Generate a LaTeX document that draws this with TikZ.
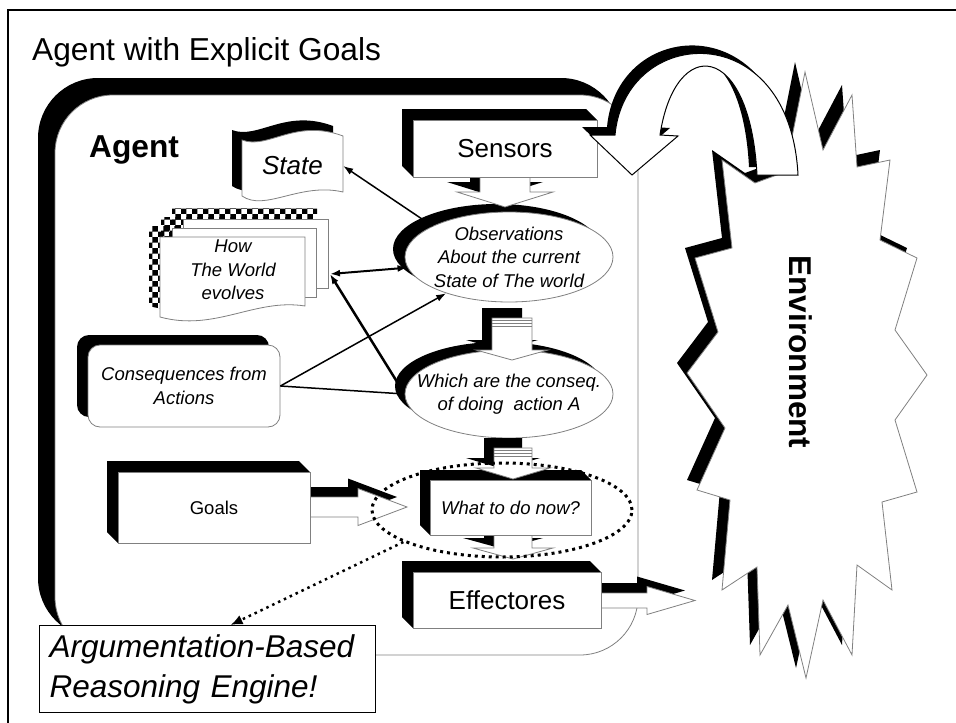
\documentclass[tikz,border=0pt]{standalone}
\usepackage{fontspec}
\setmainfont{Liberation Sans}
\usetikzlibrary{shapes.geometric,patterns,arrows.meta}

\newcommand{\titlefont}{\fontsize{31.7}{37}\selectfont}
\newcommand{\boxfont}{\fontsize{26}{31}\selectfont}
\newcommand{\notefont}{\fontsize{18.5}{23.5}\selectfont}
\newcommand{\argfont}{\fontsize{31.5}{40}\selectfont}

\tikzset{
  blackcast/.style={fill=black},
  sheet/.style={fill=white, draw=gray, line width=0.8pt},
  note/.style={font=\notefont\itshape, align=center},
  link/.style={-{Latex[length=10pt,width=7pt]}, line width=1.5pt},
}

% extruded shadow behind a box: x0,y0,x1,y1,offset
\newcommand{\castbox}[5]{%
  \fill (#1-#5,#2-#5) -- (#3-#5,#2-#5) -- (#3,#2) -- (#1,#4) -- (#1-#5,#4-#5) -- cycle;}

% block arrow down: cx, top, head, tip, half shaft, half head
\newcommand{\blockdown}[6]{%
  \path[blackcast, shift={(-10,-10)}] (#1-#5,#2) -- (#1+#5,#2) -- (#1+#5,#3) -- (#1+#6,#3) -- (#1,#4) -- (#1-#6,#3) -- (#1-#5,#3) -- cycle;
  \path[sheet] (#1-#5,#2) -- (#1+#5,#2) -- (#1+#5,#3) -- (#1+#6,#3) -- (#1,#4) -- (#1-#6,#3) -- (#1-#5,#3) -- cycle;}

% block arrow right: left, cy, head, tip, half shaft, half head
\newcommand{\blockright}[6]{%
  \path[blackcast, shift={(-10,-10)}] (#1,#2-#5) -- (#3,#2-#5) -- (#3,#2-#6) -- (#4,#2) -- (#3,#2+#6) -- (#3,#2+#5) -- (#1,#2+#5) -- cycle;
  \path[sheet] (#1,#2-#5) -- (#3,#2-#5) -- (#3,#2-#6) -- (#4,#2) -- (#3,#2+#6) -- (#3,#2+#5) -- (#1,#2+#5) -- cycle;}

\begin{document}
\begin{tikzpicture}[x=1pt, y=-1pt]
\useasboundingbox (0,0) rectangle (956,723);
\draw[line width=1.2pt] (8,723) -- (8,10) -- (956,10);
\node[font=\titlefont, anchor=base west, inner sep=0pt] (title) at (32,60) {Agent with Explicit Goals};

% agent frame
\fill[rounded corners=60] (38,78) rectangle (621,638);
\path[sheet, rounded corners=58] (55,95) rectangle (638,655);
\node[font=\titlefont\bfseries, anchor=base west, inner sep=0pt] (agentlbl) at (89,157) {Agent};

% state
\path[blackcast, shift={(-10,-10)}] (242,140) .. controls (268,150) and (295,118) .. (343,136) -- (343,192) .. controls (300,182) and (265,212) .. (242,196) -- cycle;
\path[sheet] (242,140) .. controls (268,150) and (295,118) .. (343,136) -- (343,192) .. controls (300,182) and (265,212) .. (242,196) -- cycle;
\node[font=\boxfont\itshape, minimum width=101, minimum height=52] (state) at (292.5,166) {State};

% how the world evolves
\path[pattern=checkerboard] (172,208) rectangle (317,277);
\path[pattern=checkerboard] (161,217) rectangle (305,286);
\path[pattern=checkerboard] (149,226) -- (294,226) -- (294,295) .. controls (244,287) and (204,321) .. (149,306) -- cycle;
\path[sheet] (183,219) rectangle (328,288);
\path[sheet] (172,228) rectangle (316,297);
\path[sheet] (160,237) -- (305,237) -- (305,306) .. controls (255,298) and (215,332) .. (160,317) -- cycle;
\node[note] (world) at (233,270) {How\\The World\\evolves};
\coordinate (worldR) at (330,274);

% consequences
\fill[rounded corners=12] (77,335) rectangle (269,417);
\node[sheet, rounded corners=12, minimum width=192, minimum height=82, note] (conseq) at (184,386) {Consequences from\\Actions};

% ellipses
\fill (497,249) ellipse [x radius=104, y radius=45];
\node[sheet, ellipse, minimum width=208, minimum height=90, inner sep=0pt,
  label={[note]center:{Observations\\About the current\\State of The world}}] (obs) at (509,257) {};
\fill (499,386) ellipse [x radius=104, y radius=44];
\node[sheet, ellipse, minimum width=208, minimum height=88, inner sep=0pt,
  label={[note]center:{Which are the conseq.\\of doing\ \ action A}}] (which) at (509,394) {};

% box shadows
\castbox{413}{120}{597}{177}{11}
\castbox{430}{480}{591}{535}{10}
\castbox{413}{572}{601}{628}{11}
\castbox{118}{472}{310}{543}{11}

% block arrows
\blockdown{505}{177}{192}{207}{25}{48}
\blockdown{512}{318}{350}{360}{20}{36}
\blockdown{513}{448}{468}{479}{19}{37}
\blockdown{513}{535}{548}{559}{19}{40}
\blockright{310}{507}{358}{407}{10}{18.5}
\blockright{601}{600.5}{647}{695}{7.5}{14}

% stripes on the middle shafts
\foreach \y in {320,323,326} {
  \draw[gray, line width=0.6pt] (492,\y) -- (532,\y);
  \draw[gray, line width=0.6pt] (494,\y+130) -- (532,\y+130);
}

% boxes
\node[sheet, minimum width=184, minimum height=57, font=\boxfont] (sensors) at (505,148.5) {Sensors};
\node[sheet, minimum width=161, minimum height=55, note] (whatnow) at (510.5,507.5) {What to do now?};
\node[sheet, minimum width=188, minimum height=56, font=\boxfont] (effect) at (507,600) {Effectores};
\node[sheet, minimum width=192, minimum height=71, font=\notefont] (goals) at (214,507.5) {Goals};

% connectors
\draw[link] (obs.158) -- (state.east);
\draw[{Latex[length=10pt,width=7pt]}-{Latex[length=10pt,width=7pt]}, line width=2pt] (worldR) -- (obs.186);
\draw[link] (conseq.east) -- (obs.210);
\draw[line width=1.5pt, shorten >=7pt] (conseq.east) -- (which.west);
\draw[link, line width=2.5pt, shorten <=8pt] (which.west) -- (worldR);

% focus ring
\node[draw, ellipse, line width=3pt, dash pattern=on 3pt off 4pt, minimum width=260, minimum height=94, inner sep=0pt] (focus) at (502,510) {};

% environment
\path[blackcast, shift={(-10,-10)}] (805,72) -- (823,150) -- (852,95) -- (857,167) -- (890,160) -- (880,240) -- (917,258) -- (895,330) -- (927,375) -- (895,420) -- (917,492) -- (882,502) -- (892,590) -- (857,565) -- (852,655) -- (823,600) -- (806,678) -- (788,605) -- (760,655) -- (757,567) -- (722,590) -- (730,500) -- (697,490) -- (725,428) -- (687,373) -- (718,332) -- (695,258) -- (732,248) -- (722,160) -- (755,183) -- (785,172) -- cycle;
\path[sheet] (805,72) -- (823,150) -- (852,95) -- (857,167) -- (890,160) -- (880,240) -- (917,258) -- (895,330) -- (927,375) -- (895,420) -- (917,492) -- (882,502) -- (892,590) -- (857,565) -- (852,655) -- (823,600) -- (806,678) -- (788,605) -- (760,655) -- (757,567) -- (722,590) -- (730,500) -- (697,490) -- (725,428) -- (687,373) -- (718,332) -- (695,258) -- (732,248) -- (722,160) -- (755,183) -- (785,172) -- cycle;
\node[font=\argfont\bfseries, rotate=-90] (envlbl) at (801,352) {Environment};

% feedback arrow
\path[blackcast, shift={(-8,-8)}] (798,175) -- (757,175) .. controls (750,40) and (675,35) .. (660,135) -- (678,136) -- (632,175) -- (590,135) -- (615,135) .. controls (625,25) and (790,15) .. (798,175) -- cycle;
\path[fill=white, draw=black, line width=1pt] (798,175) -- (757,175) .. controls (750,40) and (675,35) .. (660,135) -- (678,136) -- (632,175) -- (590,135) -- (615,135) .. controls (625,25) and (790,15) .. (798,175) -- cycle;

% reasoning engine
\node[draw, fill=white, line width=1.2pt, anchor=north west, minimum width=336, minimum height=87, text width=316, inner xsep=10, inner ysep=0, align=left, font=\argfont\itshape] (argue) at (39,625) {Argumentation-Based\\Reasoning Engine!};
\draw[line width=2.5pt, dash pattern=on 2.5pt off 4pt, -{Latex[length=12pt,width=10pt]}] (focus.198) -- ([xshift=23pt]argue.north);
\end{tikzpicture}
\end{document}
